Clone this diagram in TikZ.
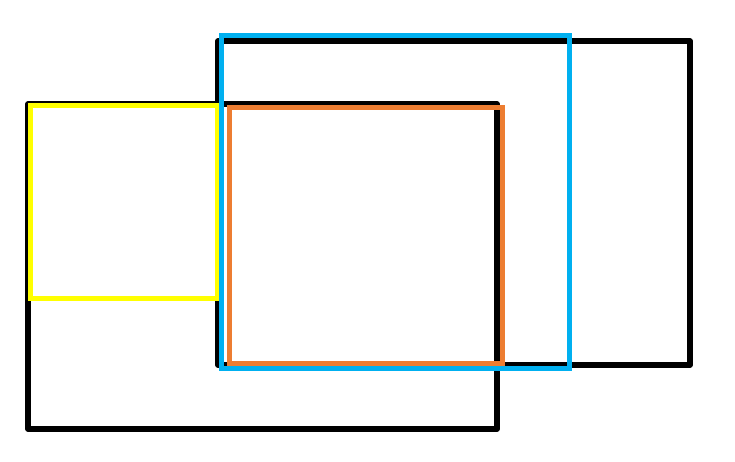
\documentclass[tikz,border=0pt]{standalone}
\usepackage{tikz}

\definecolor{boxblue}{HTML}{00B0F0}
\definecolor{boxyellow}{HTML}{FFFF00}
\definecolor{boxorange}{HTML}{ED7D31}

\begin{document}
\begin{tikzpicture}[
     x = 1pt, y = -1pt, % pixel grid, y down
     line width = 5.5pt % frame line style
 ]

 \tikzstyle{frame} = [
     draw = black,
     line join = round
 ]
 \tikzstyle{yellowframe} = [
     draw = boxyellow,
     line width = 5pt
 ]
 \tikzstyle{orangeframe} = [
     draw = boxorange,
     line width = 4.5pt
 ]
 \tikzstyle{blueframe} = [
     draw = boxblue,
     line width = 5pt
 ]

 \useasboundingbox (0,0) rectangle (735,462);

 % black frames
 \draw[frame] (28,104) rectangle (497,429);
 \draw[frame] (218,41) rectangle (690,365);

 % coloured frames
 \draw[yellowframe] (30,106) rectangle (217,298);
 \draw[orangeframe] (229.5,107.5) rectangle (502.5,363.5);
 \draw[blueframe] (221,35.5) rectangle (569,368);
\end{tikzpicture}
\end{document}
